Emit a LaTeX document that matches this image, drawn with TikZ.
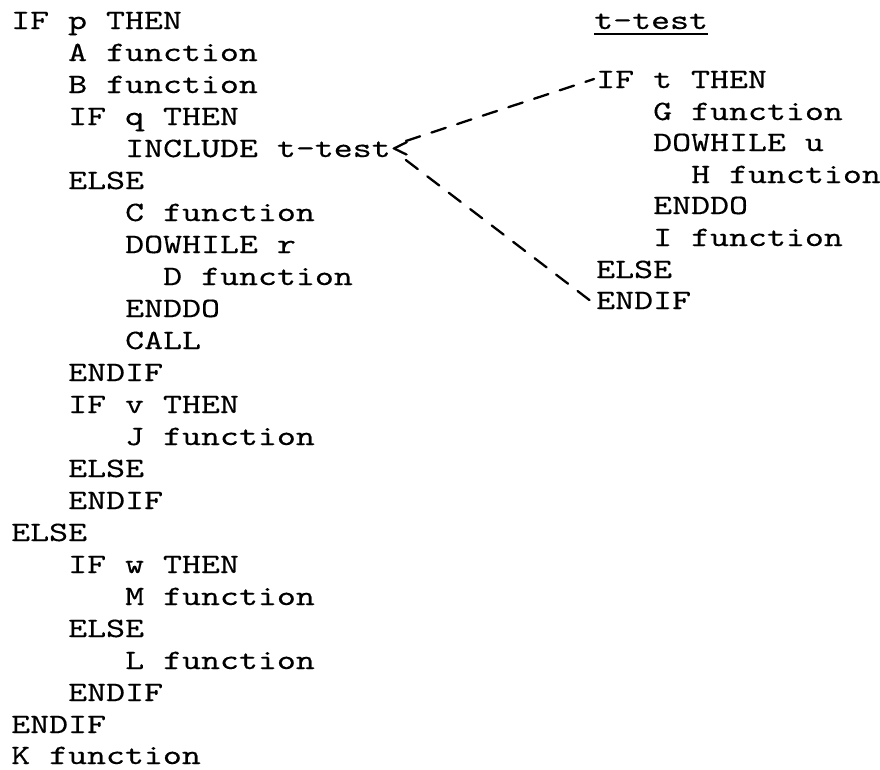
\documentclass[tikz,border=0pt]{standalone}
\usepackage{fontspec}
\usepackage{tikz}
\newfontfamily\codefont[FakeStretch=1.29,FakeBold=0.3]{lmmono10-regular.otf}

\begin{document}
\begin{tikzpicture}[x=1pt,y=-1pt]
        \tikzstyle{code}=[anchor=base west,inner sep=0pt,font=\codefont\fontsize{28}{32}\selectfont]
        \tikzstyle{link}=[dash pattern=on 15pt off 12pt,line width=2.3pt,line cap=round]
        \useasboundingbox (0,0) rectangle (880,769);

        \node[code]  (L00) at (11,29)   {IF p THEN}; % main
        \node[code]  (L01) at (68,61)   {A function};
        \node[code]  (L02) at (68,93)   {B function};
        \node[code]  (L03) at (68,125)  {IF q THEN};
        \node[code]  (L04) at (125,157) {INCLUDE t-test<};
        \node[code]  (L05) at (68,189)  {ELSE};
        \node[code]  (L06) at (125,221) {C function};
        \node[code]  (L07) at (125,253) {DOWHILE r};
        \node[code]  (L08) at (163,285) {D function};
        \node[code]  (L09) at (125,317) {ENDDO};
        \node[code]  (L10) at (125,349) {CALL};
        \node[code]  (L11) at (68,381)  {ENDIF};
        \node[code]  (L12) at (68,413)  {IF v THEN};
        \node[code]  (L13) at (125,445) {J function};
        \node[code]  (L14) at (68,477)  {ELSE};
        \node[code]  (L15) at (68,509)  {ENDIF};
        \node[code]  (L16) at (11,541)  {ELSE};
        \node[code]  (L17) at (68,573)  {IF w THEN};
        \node[code]  (L18) at (125,605) {M function};
        \node[code]  (L19) at (68,637)  {ELSE};
        \node[code]  (L20) at (125,669) {L function};
        \node[code]  (L21) at (68,701)  {ENDIF};
        \node[code]  (L22) at (11,733)  {ENDIF};
        \node[code]  (L23) at (11,764)  {K function};

        \node[code]  (R00) at (594,29)  {t-test}; % included segment
        \node[code]  (R01) at (596,88)  {IF t THEN};
        \node[code]  (R02) at (653,120) {G function};
        \node[code]  (R03) at (653,151) {DOWHILE u};
        \node[code]  (R04) at (691,183) {H function};
        \node[code]  (R05) at (653,214) {ENDDO};
        \node[code]  (R06) at (653,246) {I function};
        \node[code]  (R07) at (596,278) {ELSE};
        \node[code]  (R08) at (596,309) {ENDIF};

        \draw[line width=2pt] ([shift={(0,5)}]R00.base west) -- ([shift={(0,5)}]R00.base east);

        \draw[link] ([shift={(-4,-16)}]L04.base east) -- ([shift={(-2,-9)}]R01.base west);
        \draw[link] ([shift={(-4,3)}]L04.base east) -- ([shift={(-4,-7)}]R08.base west);
\end{tikzpicture}
\end{document}
